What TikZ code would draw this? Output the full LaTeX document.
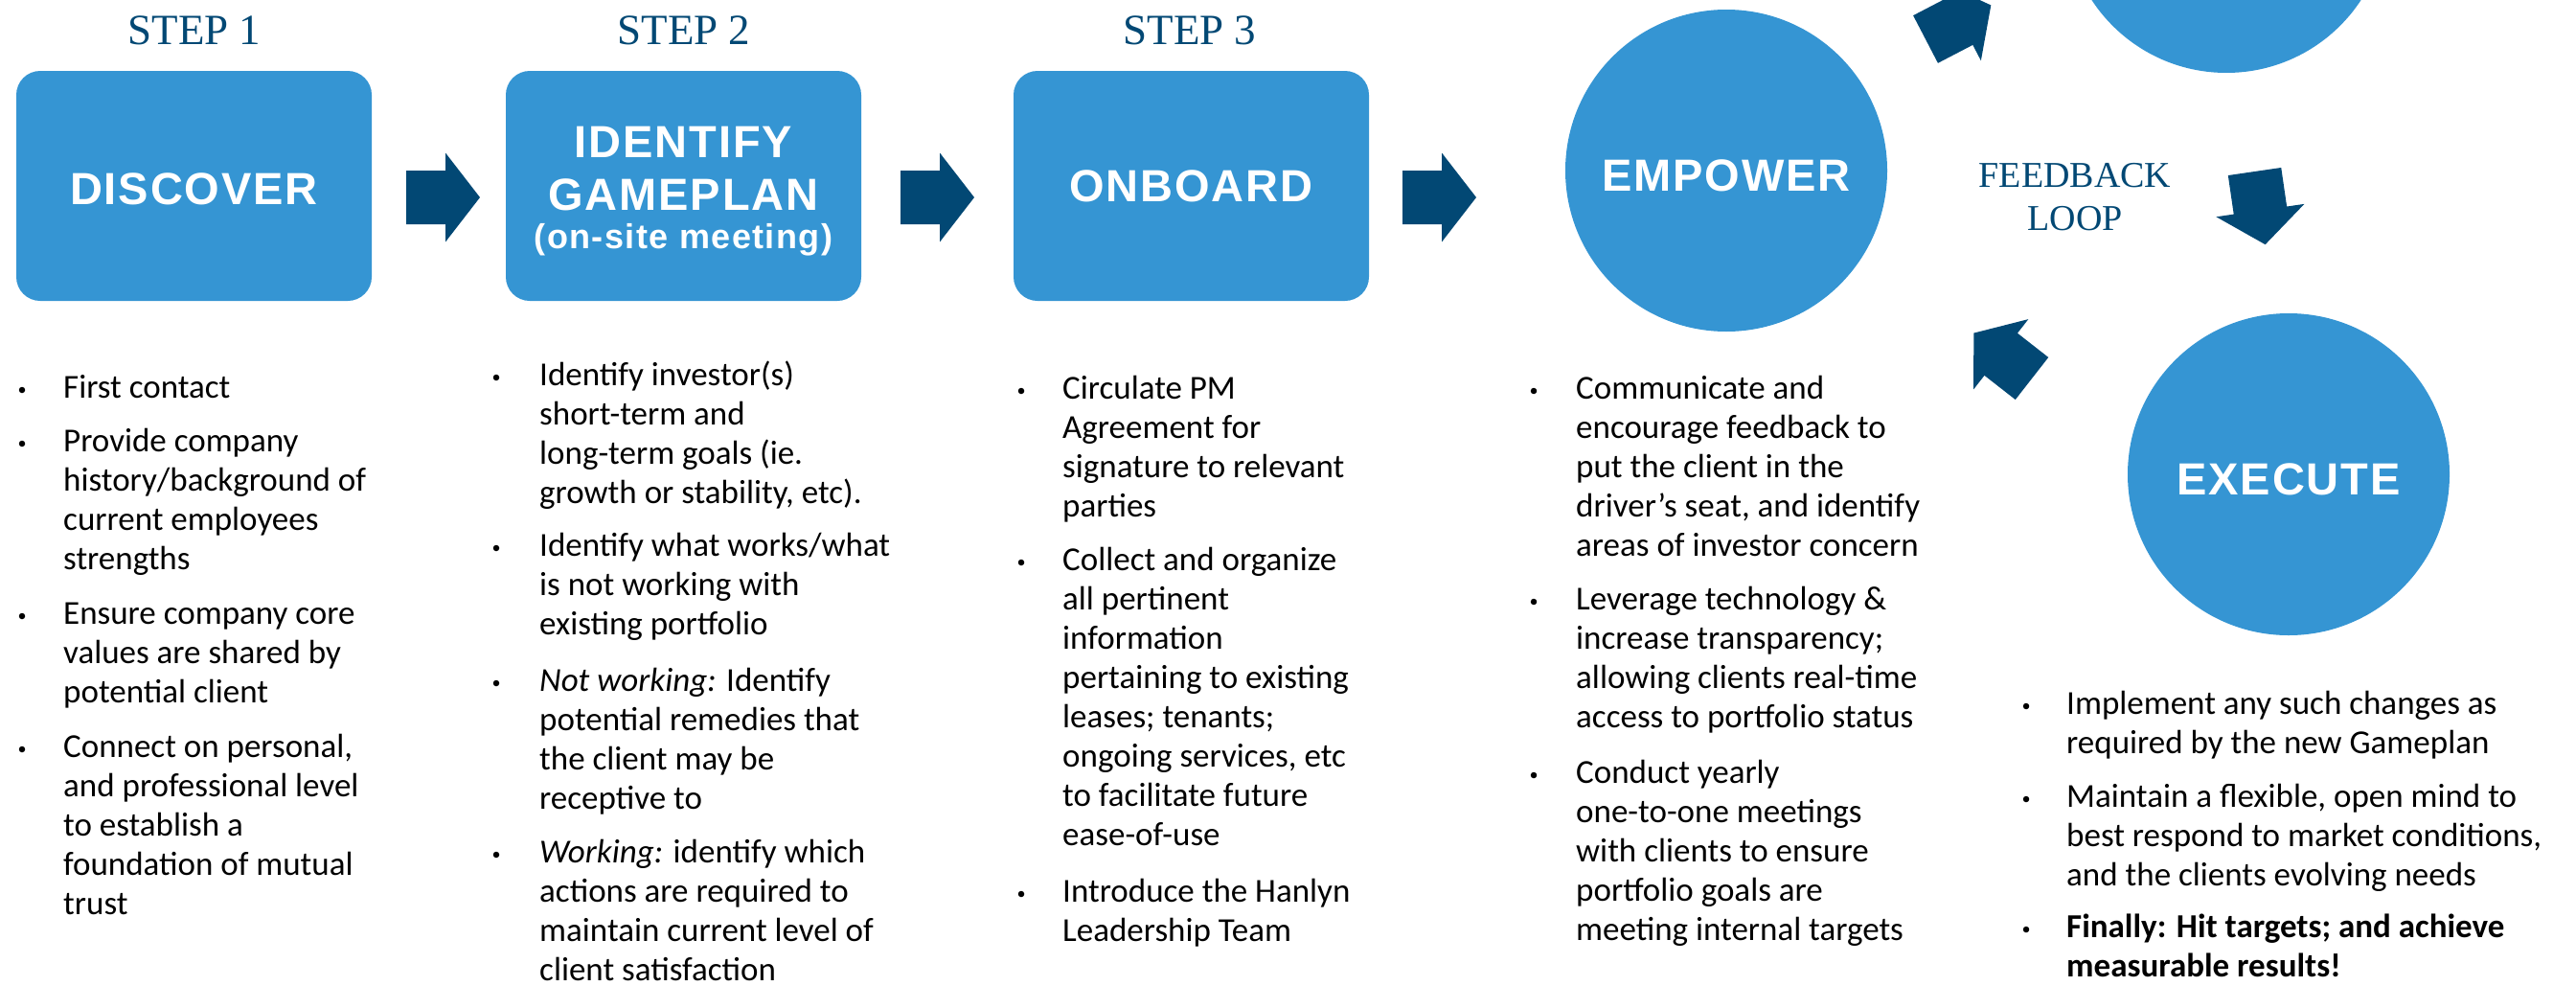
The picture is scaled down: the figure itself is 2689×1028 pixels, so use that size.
\documentclass[tikz,border=0pt]{standalone}
\usepackage{fontspec}
\setmainfont{Carlito}
\newfontfamily\headfont[LetterSpace=4]{Liberation Sans}
\newfontfamily\stepfont{Liberation Serif}
\definecolor{boxblue}{RGB}{53,149,211}
\definecolor{navy}{RGB}{2,72,116}
\newcommand{\mylines}[1]{\begin{tabular}[t]{@{}l@{}}#1\end{tabular}}
\begin{document}
\begin{tikzpicture}[x=1pt,y=-1pt,
  stepbox/.style={rectangle, rounded corners=25pt, fill=boxblue, minimum width=371pt, minimum height=240pt, inner sep=0pt, text=white, font=\headfont\bfseries\fontsize{47}{55}\selectfont, align=center},
  phase/.style={circle, fill=boxblue, minimum size=336pt, inner sep=0pt, text=white, font=\headfont\bfseries\fontsize{47}{55}\selectfont, text height=43.7pt, text depth=0pt},
  steplabel/.style={anchor=base, text=navy, font=\stepfont\fontsize{45}{50}\selectfont, inner sep=0pt},
  bul/.style={circle, fill=black, minimum size=6.5pt, inner sep=0pt},
  item/.style={anchor=base west, inner sep=0pt, font=\fontsize{35}{41}\selectfont},
  pics/blockarrow/.style={code={\fill[navy] (0,28) -- (41,28) -- (41,46.5) -- (77,0) -- (41,-46.5) -- (41,-28) -- (0,-28) -- cycle;}}
]
\path[use as bounding box] (0,0) rectangle (2689,1028);
\clip (0,0) rectangle (2689,1028);

% step labels
\node[steplabel] (l1) at (203,46) {STEP 1};
\node[steplabel] (l2) at (714,46) {STEP 2};
\node[steplabel] (l3) at (1242,46) {STEP 3};

% step boxes
\node[stepbox, text height=38.7pt, text depth=0pt] (s1) at (202.5,194) {DISCOVER};
\node[stepbox] (s2) at (713.5,194) {\rule{0pt}{43.7pt}IDENTIFY\\GAMEPLAN\\[-15pt]{\fontsize{36}{55}\selectfont (on-site meeting)}};
\node[stepbox, text height=33.7pt, text depth=0pt] (s3) at (1243.5,194) {ONBOARD};

% circles
\node[phase] (empower) at (1802,178) {EMPOWER};
\node[phase] (review) at (2324,-92) {};
\node[phase] (execute) at (2389,495) {EXECUTE};

% block arrows
\pic at (424,206) {blockarrow};
\pic at (940,206) {blockarrow};
\pic at (1464,206) {blockarrow};
\pic[rotate=27.5] at (2010,41) {blockarrow};
\pic[rotate=-81.7] at (2353.5,179) {blockarrow};
\pic[rotate=142] at (2121,395) {blockarrow};

% feedback loop label
\node[anchor=base, inner sep=0pt, text=navy, font=\stepfont\fontsize{38}{45}\selectfont] (fb) at (2166,195) {\begin{tabular}[t]{@{}c@{}}FEEDBACK\\LOOP\end{tabular}};

% column 1
\node[bul] (b11) at (23,407) {};
\node[item] (t11) at (66,415) {\mylines{First contact}};
\node[bul] (b12) at (23,463) {};
\node[item] (t12) at (66,471) {\mylines{Provide company\\history/background of\\current employees\\strengths}};
\node[bul] (b13) at (23,643) {};
\node[item] (t13) at (66,651) {\mylines{Ensure company core\\values are shared by\\potential client}};
\node[bul] (b14) at (23,782) {};
\node[item] (t14) at (66,790) {\mylines{Connect on personal,\\and professional level\\to establish a\\foundation of mutual\\trust}};

% column 2
\node[bul] (b21) at (518,394) {};
\node[item] (t21) at (563,402) {\mylines{Identify investor(s)\\short-term and\\long-term goals (ie.\\growth or stability, etc).}};
\node[bul] (b22) at (518,572) {};
\node[item] (t22) at (563,580) {\mylines{Identify what works/what\\is not working with\\existing portfolio}};
\node[bul] (b23) at (518,713) {};
\node[item] (t23) at (563,721) {\mylines{\textit{Not working:} Identify\\potential remedies that\\the client may be\\receptive to}};
\node[bul] (b24) at (518,892) {};
\node[item] (t24) at (563,900) {\mylines{\textit{Working:} identify which\\actions are required to\\maintain current level of\\client satisfaction}};

% column 3
\node[bul] (b31) at (1066,408) {};
\node[item] (t31) at (1109,416) {\mylines{Circulate PM\\Agreement for\\signature to relevant\\parties}};
\node[bul] (b32) at (1066,587) {};
\node[item] (t32) at (1109,595) {\mylines{Collect and organize\\all pertinent\\information\\pertaining to existing\\leases; tenants;\\ongoing services, etc\\to facilitate future\\ease-of-use}};
\node[bul] (b33) at (1066,933) {};
\node[item] (t33) at (1109,941) {\mylines{Introduce the Hanlyn\\Leadership Team}};

% column 4
\node[bul] (b41) at (1601,408) {};
\node[item] (t41) at (1645,416) {\mylines{Communicate and\\encourage feedback to\\put the client in the\\driver’s seat, and identify\\areas of investor concern}};
\node[bul] (b42) at (1601,628) {};
\node[item] (t42) at (1645,636) {\mylines{Leverage technology \&\\increase transparency;\\allowing clients real-time\\access to portfolio status}};
\node[bul] (b43) at (1601,809) {};
\node[item] (t43) at (1645,817) {\mylines{Conduct yearly\\one-to-one meetings\\with clients to ensure\\portfolio goals are\\meeting internal targets}};

% column 5
\node[bul] (b51) at (2115,737) {};
\node[item] (t51) at (2157,745) {\mylines{Implement any such changes as\\required by the new Gameplan}};
\node[bul] (b52) at (2115,834) {};
\node[item] (t52) at (2157,842) {\mylines{Maintain a flexible, open mind to\\best respond to market conditions,\\and the clients evolving needs}};
\node[bul] (b53) at (2115,970) {};
\node[item] (t53) at (2157,978) {\mylines{\textbf{Finally: Hit targets; and achieve}\\\textbf{measurable results!}}};
\end{tikzpicture}
\end{document}
